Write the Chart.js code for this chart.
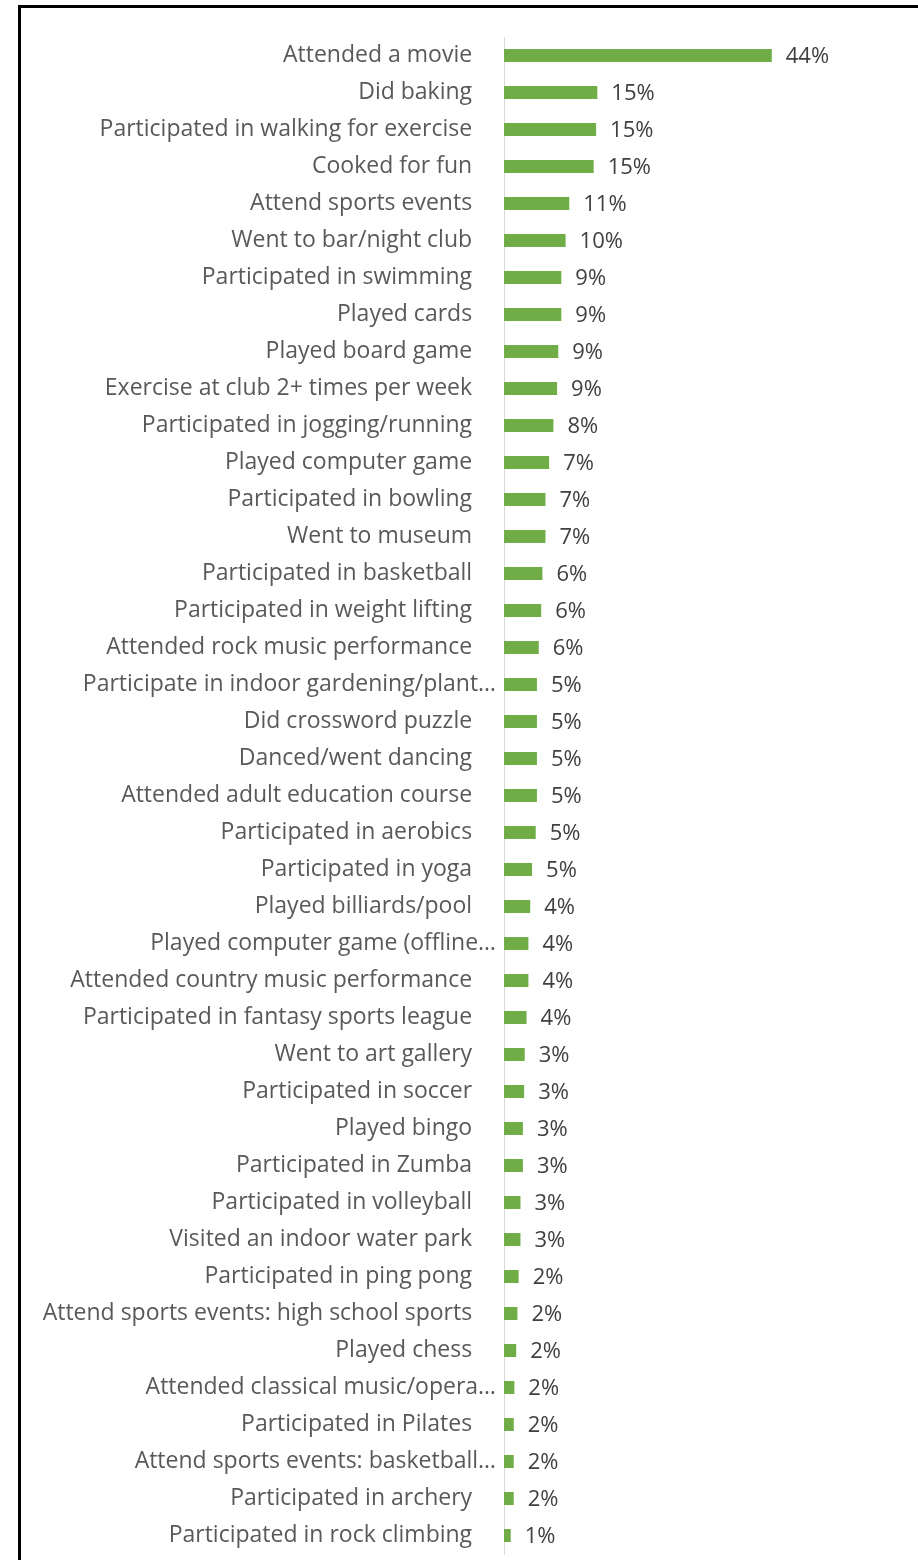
<!DOCTYPE html>
<html>
<head>
<meta charset="utf-8">
<script src="https://cdn.jsdelivr.net/npm/chart.js@4.4.1/dist/chart.umd.min.js"></script>
<style>
    html, body { margin: 0; padding: 0; background: #fff; overflow: hidden; }
    #frame {
        position: absolute; left: 18px; top: 5px; width: 1000px; height: 1700px;
        border-left: 3px solid #000; border-top: 3px solid #000;
    }
    #chart-box { position: absolute; left: 0; top: 0; width: 918px; height: 1560px; }
</style>
</head>
<body>
<div id="frame"></div>
<div id="chart-box"><canvas id="chart"></canvas></div>
<script>
// Activities (top to bottom), share in percent
const activities = [
    'Attended a movie',
    'Did baking',
    'Participated in walking for exercise',
    'Cooked for fun',
    'Attend sports events',
    'Went to bar/night club',
    'Participated in swimming',
    'Played cards',
    'Played board game',
    'Exercise at club 2+ times per week',
    'Participated in jogging/running',
    'Played computer game',
    'Participated in bowling',
    'Went to museum',
    'Participated in basketball',
    'Participated in weight lifting',
    'Attended rock music performance',
    'Participate in indoor gardening/plant…',
    'Did crossword puzzle',
    'Danced/went dancing',
    'Attended adult education course',
    'Participated in aerobics',
    'Participated in yoga',
    'Played billiards/pool',
    'Played computer game (offline…',
    'Attended country music performance',
    'Participated in fantasy sports league',
    'Went to art gallery',
    'Participated in soccer',
    'Played bingo',
    'Participated in Zumba',
    'Participated in volleyball',
    'Visited an indoor water park',
    'Participated in ping pong',
    'Attend sports events: high school sports',
    'Played chess',
    'Attended classical music/opera…',
    'Participated in Pilates',
    'Attend sports events: basketball…',
    'Participated in archery',
    'Participated in rock climbing'
];

const shares = [
    43.9, 15.3, 15.1, 14.7, 10.7, 10.1, 9.4, 9.4, 8.9, 8.7,
    8.1, 7.4, 6.8, 6.8, 6.3, 6.1, 5.7, 5.4, 5.4, 5.4,
    5.4, 5.2, 4.6, 4.3, 4.0, 4.0, 3.7, 3.4, 3.3, 3.1,
    3.1, 2.7, 2.7, 2.4, 2.2, 2.0, 1.7, 1.6, 1.6, 1.6,
    1.1
];

const barColor = '#70AD47';

// draws the "44%" style labels to the right of each bar
const valueLabels = {
    id: 'valueLabels',
    afterDatasetsDraw(chart) {
        const ctx = chart.ctx;
        const meta = chart.getDatasetMeta(0);
        ctx.save();
        ctx.font = '22px "Open Sans"';
        ctx.fillStyle = '#404040';
        ctx.textAlign = 'left';
        ctx.textBaseline = 'middle';
        meta.data.forEach((bar, i) => {
            ctx.fillText(Math.round(shares[i]) + '%', bar.x + 14, bar.y + 1);
        });
        ctx.restore();
    }
};

new Chart(document.getElementById('chart'), {
    type: 'bar',
    data: {
        labels: activities,
        datasets: [{
            data: shares,
            backgroundColor: barColor,
            borderWidth: 0,
            categoryPercentage: 1,
            barPercentage: 0.35
        }]
    },
    options: {
        indexAxis: 'y',
        responsive: true,
        maintainAspectRatio: false,
        animation: false,
        layout: { padding: { left: 0, right: 109, top: 37, bottom: 6 } },
        plugins: {
            legend: { display: false },
            tooltip: { enabled: false }
        },
        scales: {
            x: { display: false, min: 0, max: 50 },
            y: {
                grid: { display: false },
                border: { display: true, color: '#D9D9D9', width: 1 },
                ticks: {
                    color: '#595959',
                    font: { family: '"Open Sans"', size: 23 },
                    padding: 0,
                    autoSkip: false,
                    callback: function (value) {
                        const label = this.getLabelForValue(value);
                        // Excel leaves a gap after untruncated labels
                        return label.endsWith('…') ? label : label + '    ';
                    }
                },
                afterFit: (scale) => {
                    scale.width = 504;
                    scale.paddingTop = 0;
                    scale.paddingBottom = 0;
                }
            }
        }
    },
    plugins: [valueLabels]
});
</script>
</body>
</html>
